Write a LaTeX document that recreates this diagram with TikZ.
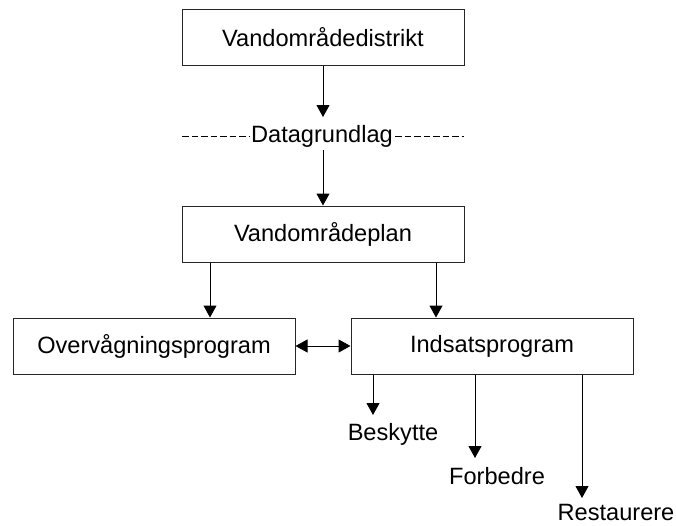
\documentclass[tikz,border=0pt]{standalone}
\usepackage{fontspec}
\setmainfont{Liberation Sans}
\usetikzlibrary{arrows.meta}
\begin{document}
\begin{tikzpicture}[x=1pt,y=-1pt,
  font=\fontsize{23.6}{28}\selectfont,
  box/.style={draw=black!85, line width=1pt, minimum width=282pt, minimum height=56pt, inner sep=0pt},
  lbl/.style={inner sep=0pt, anchor=base},
  tip/.style={Triangle[length=12pt,width=13pt]},
  arr/.style={draw=black, line width=1pt, -{Triangle[length=12pt,width=13pt]}},
  darr/.style={draw=black, line width=1pt, {Triangle[length=12pt,width=13pt]}-{Triangle[length=12pt,width=13pt]}},
  dline/.style={draw=black, line width=1pt, dash pattern=on 6.5pt off 3pt}]
\useasboundingbox (0,0) rectangle (676,525);

% boxes
\node[box] (dist) at (323,37.5) {Vandområdedistrikt};
\node[box] (plan) at (323,234) {Vandområdeplan};
\node[box] (over) at (154,346) {Overvågningsprogram};
\node[box] (ind)  at (492,346) {Indsatsprogram};

% data layer label with dashed rules
\node[inner sep=2pt] (data) at (322,136) {Datagrundlag};
\coordinate (dl) at (182,136);
\coordinate (dr) at (464,136);
\draw[dline] (dl) -- (data.west);
\draw[dline] (data.east) -- (dr);

\coordinate (dtop) at (323,117);
\coordinate (dbot) at (323,150);
\draw[arr] (dist.south) -- (dtop);
\draw[arr] (dbot) -- (plan.north);

% plan to programmes
\draw[arr] (plan.south -| 210,0) -- (over.north -| 210,0);
\draw[arr] (plan.south -| 436,0) -- (ind.north -| 436,0);
\draw[darr] (over.east) -- (ind.west);

% measures
\node[lbl] (besk) at (393,440) {Beskytte};
\node[lbl] (forb) at (497,484) {Forbedre};
\node[lbl] (rest) at (616,520) {Restaurere};
\coordinate (tb) at (373,415);
\coordinate (tf) at (475,458);
\coordinate (tr) at (582,498);
\draw[arr] (ind.south -| tb) -- (tb);
\draw[arr] (ind.south -| tf) -- (tf);
\draw[arr] (ind.south -| tr) -- (tr);
\end{tikzpicture}
\end{document}
